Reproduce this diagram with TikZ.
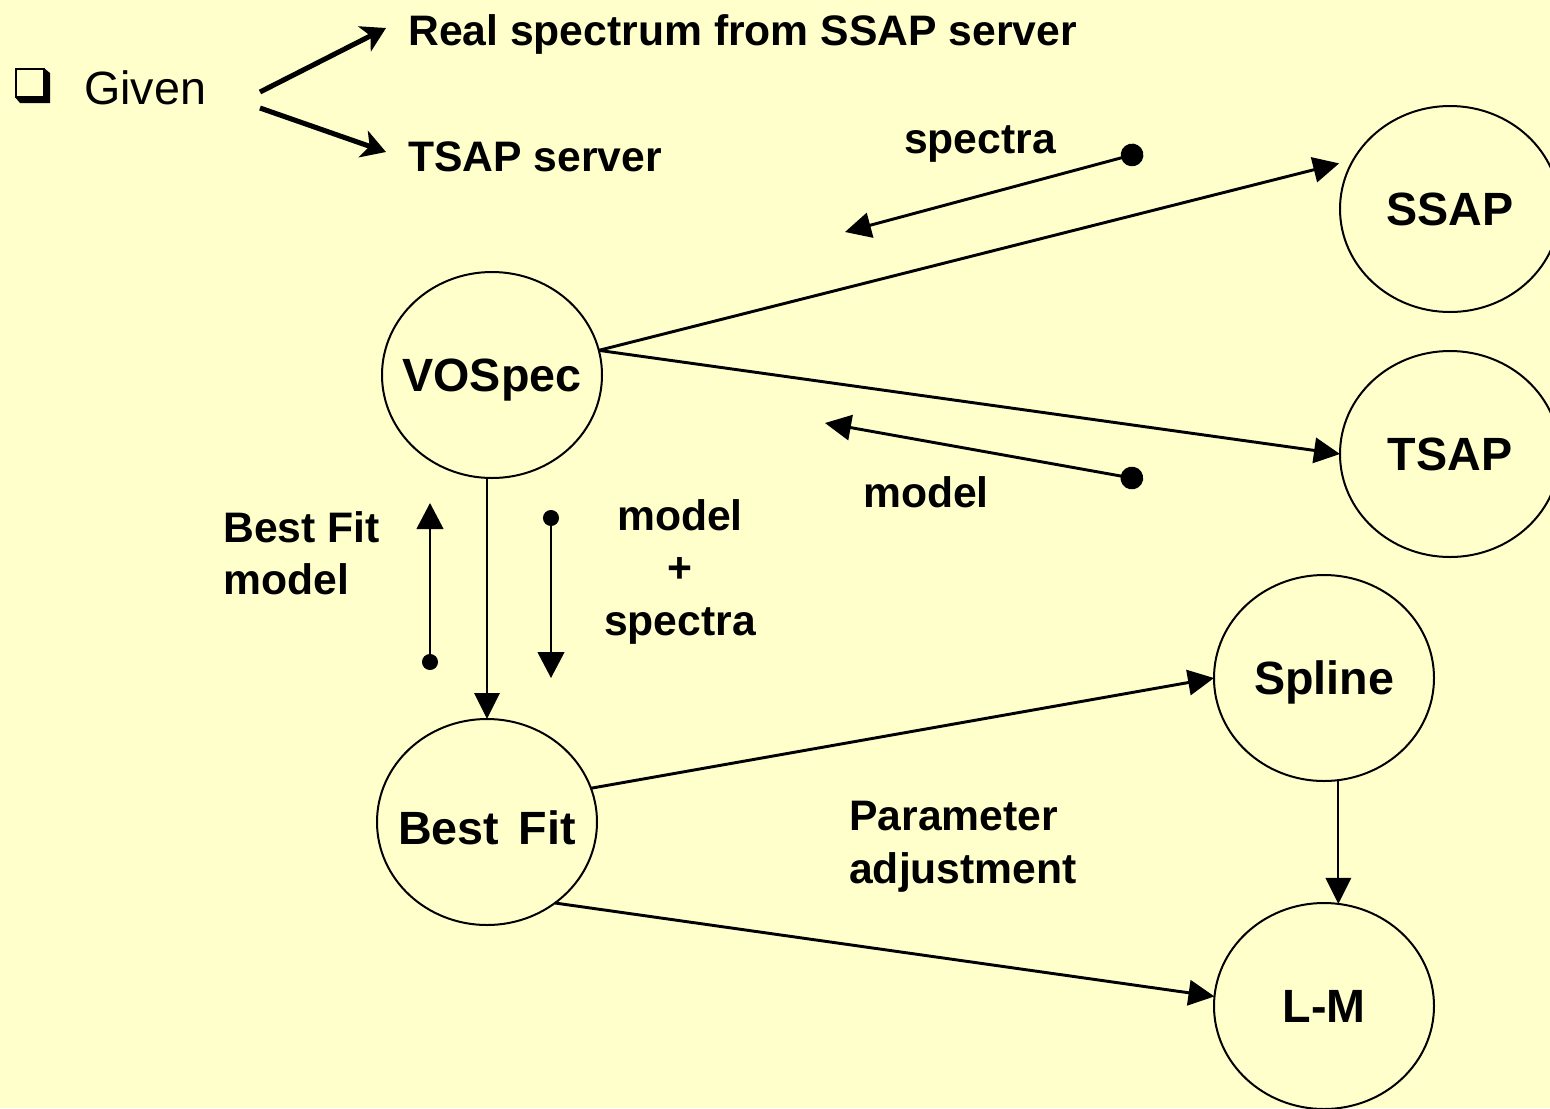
\documentclass[tikz,border=0pt]{standalone}
\usepackage{fontspec}
\setmainfont{Liberation Sans}
\usetikzlibrary{arrows.meta,shapes.geometric,calc}
\definecolor{bgyellow}{HTML}{FFFFCC}
\begin{document}
\begin{tikzpicture}[x=0.75pt,y=-0.75pt,
  circ/.style={ellipse,draw,line width=1.5pt,minimum width=165pt,minimum height=154.5pt,
    inner sep=0pt,outer sep=0pt,text height=25pt,text depth=0pt,
    font=\fontsize{35}{42}\selectfont\bfseries},
  lbl/.style={font=\fontsize{32}{39.5}\selectfont\bfseries,inner sep=0pt},
  tipT/.style={-{Triangle[length=19.5pt,width=19pt]}},
  conn/.style={line width=2.2pt,tipT},
  thinconn/.style={line width=1.7pt,tipT},
  dotconn/.style={line width=2.2pt,{Circle[length=17pt]}-{Triangle[length=19.5pt,width=19pt]}},
  smalldot/.style={line width=1.7pt,{Circle[length=12pt]}-{Triangle[length=19.5pt,width=20pt]}},
  givenarrow/.style={line width=3.8pt,-{Stealth[length=18pt,width=21pt,inset=5pt]}}
]
\useasboundingbox (0,0) rectangle (1550,1108);
\fill[bgyellow] (0,0) rectangle (1550,1108);
\clip (0,0) rectangle (1550,1108);

% checkbox bullet
\fill (15,97) -- (44,97) -- (44,68) -- (50,73) -- (50,103) -- (20,103) -- cycle;
\draw[line width=1.5pt] (15.75,68.75) rectangle (44,97);

% top texts
\node[anchor=base west,inner sep=0pt,font=\fontsize{35}{42}\selectfont] (given) at (84,104) {Given};
\node[lbl,anchor=base west] (real) at (408,45) {Real spectrum from SSAP server};
\node[lbl,anchor=base west] (tsapsrv) at (408,171) {TSAP server};
\coordinate (ga1) at (260,92);
\coordinate (ga2) at (386,28);
\coordinate (gb1) at (260,108);
\coordinate (gb2) at (386,152);
\draw[givenarrow] (ga1) -- (ga2);
\draw[givenarrow] (gb1) -- (gb2);

% nodes
\node[circ] (vospec) at (492,375) {\makebox[0pt]{VOSpec}};
\node[circ] (ssap) at (1450,209) {\makebox[0pt]{SSAP}};
\node[circ] (tsap) at (1450,454) {\makebox[0pt]{TSAP}};
\node[circ,text height=33pt] (bestfit) at (487,822) {\makebox[0pt]{Best\hspace{0.42em}Fit}};
\node[circ] (spline) at (1324,678) {\makebox[0pt]{Spline}};
\node[circ] (lm) at (1324,1006) {\makebox[0pt]{L-M}};

% main connectors
\draw[conn,shorten >=11pt] (vospec.13) -- (ssap.153);
\draw[conn] (vospec.13) -- (tsap.west);
\draw[thinconn] (bestfit.north |- vospec.south) -- (bestfit.north);
\draw[conn] (bestfit.18) -- (spline.west);
\draw[conn] (bestfit.-50) -- (lm.175);
\draw[thinconn] (spline.-82) -- (lm.82);

% message arrows
\coordinate (sdot) at (1143,152);
\coordinate (send) at (845,232);
\draw[dotconn] (sdot) -- (send);
\coordinate (mdot) at (1143,480);
\coordinate (mend) at (825,423);
\draw[dotconn] (mdot) -- (mend);
\coordinate (bdot) at (430,670);
\coordinate (bend) at (430,503);
\draw[smalldot] (bdot) -- (bend);
\coordinate (msdot) at (551,510);
\coordinate (msend) at (551,678);
\draw[smalldot] (msdot) -- (msend);

% labels
\node[lbl,anchor=base] (spectralbl) at (980,153) {spectra};
\node[lbl,anchor=base] (modellbl) at (926,507) {model};
\node[lbl,anchor=north west,align=left] (bfmodel) at (223,511) {Best Fit\\model};
\node[lbl,anchor=north,align=center] (msp) at (680,499) {model\\+\\spectra};
\node[lbl,anchor=north west,align=left] (param) at (849,801) {Parameter\\adjustment};
\end{tikzpicture}
\end{document}
